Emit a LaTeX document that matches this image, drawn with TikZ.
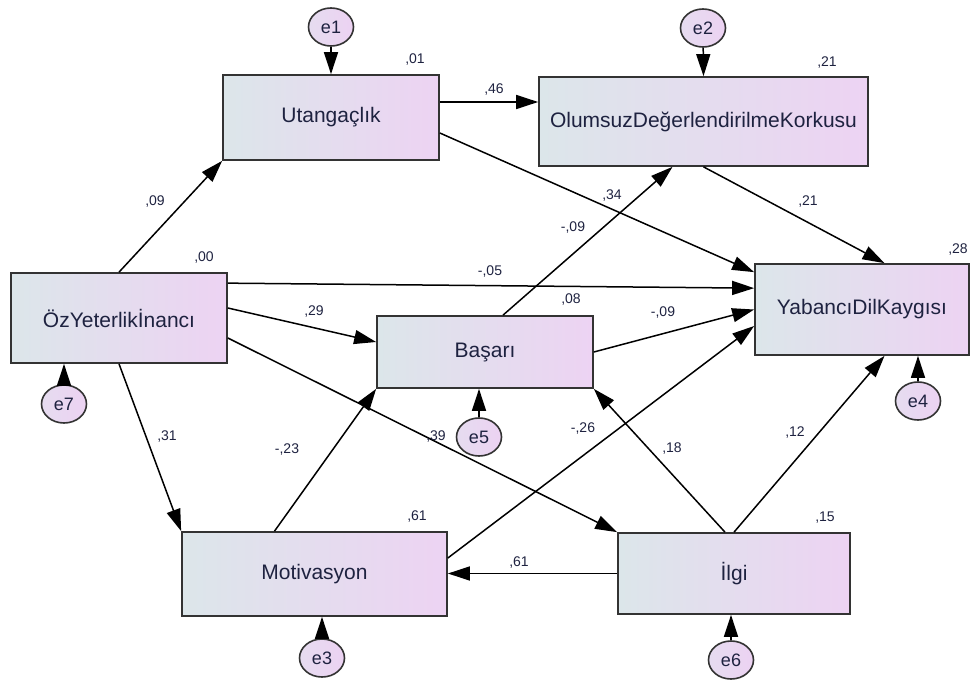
\documentclass[tikz,border=0pt]{standalone}
\usepackage{fontspec}
\setmainfont{Liberation Sans}
\usetikzlibrary{arrows.meta,shapes.geometric}
\definecolor{boxl}{HTML}{DCE6EA}
\definecolor{boxr}{HTML}{EDD3F3}
\definecolor{errl}{HTML}{E6DCF0}
\definecolor{errr}{HTML}{ECD2F2}
\definecolor{txt}{HTML}{1E2240}

\begin{document}
\begin{tikzpicture}[x=1pt,y=-1pt,
  var/.style={draw=black!80,line width=1.7pt,left color=boxl,right color=boxr,inner sep=0pt,text=txt,font=\fontsize{21}{25}\selectfont},
  err/.style={ellipse,draw=black!80,line width=1.6pt,left color=errl,right color=errr,minimum width=45pt,minimum height=38pt,inner sep=0pt,text=txt,font=\fontsize{18}{20}\selectfont},
  reg/.style={line width=1.5pt,-{Triangle[length=22pt,width=14pt]}},
  coef/.style={text=txt,inner sep=1pt,font=\fontsize{14}{16}\selectfont}]
\useasboundingbox (0,0) rectangle (972,682);

\node[var,minimum width=216pt,minimum height=85pt] (uta) at (331,117.5) {Utangaçlık};
\node[var,minimum width=329pt,minimum height=89pt] (okk) at (703.5,121.5) {OlumsuzDeğerlendirilmeKorkusu};
\node[var,minimum width=216pt,minimum height=90pt] (ozy) at (119,318) {ÖzYeterlikİnancı};
\node[var,minimum width=216pt,minimum height=72pt] (bas) at (485,352) {Başarı};
\node[var,minimum width=214pt,minimum height=91pt] (ydk) at (862,309.5) {YabancıDilKaygısı};
\node[var,minimum width=265pt,minimum height=84pt] (mot) at (314.5,574) {Motivasyon};
\node[var,minimum width=232pt,minimum height=81pt] (ilg) at (734,573.5) {İlgi};

\node[err] (e1) at (331,27) {e1};
\node[err] (e2) at (703,28) {e2};
\node[err] (e7) at (64,404) {e7};
\node[err] (e5) at (479,437) {e5};
\node[err] (e4) at (918,401) {e4};
\node[err] (e3) at (322,658) {e3};
\node[err] (e6) at (731,660) {e6};

\draw[reg] (e1) -- (uta.north);
\draw[reg] (e2) -- (okk.north);
\foreach \e/\v in {e7/ozy,e5/bas,e4/ydk,e3/mot,e6/ilg}
  \draw[reg] (\e) -- (\e |- \v.south);

\draw[reg] (ozy.north) -- (uta.south west);
\draw[reg] ([yshift=15.5pt]uta.east) -- ([yshift=19.5pt]okk.west);
\draw[reg] ([yshift=-15.5pt]uta.east) -- ([yshift=-9pt]ydk.north west);
\draw[reg] (okk.south) -- ([xshift=22.5pt]ydk.north);
\draw[reg] ([yshift=-11pt]ozy.north east) -- ([yshift=-25pt]ydk.north west);
\draw[reg] ([yshift=10pt]ozy.east) -- ([yshift=10pt]bas.west);
\draw[reg] ([yshift=-20pt]ozy.east) -- (ilg.north west);
\draw[reg] (ozy.south) -- (mot.north west);
\draw[reg] ([xshift=18pt]bas.north) -- ([xshift=-31pt]okk.south);
\draw[reg] (bas.east) -- (ydk.west);
\draw[reg] ([xshift=-40pt]mot.north) -- (bas.south west);
\draw[reg] ([yshift=16pt]mot.east) -- ([yshift=-16.5pt]ydk.west);
\draw[reg] (ilg.west) -- (ilg.west -| mot.east);
\draw[reg] ([xshift=-9pt]ilg.north) -- (bas.south east);
\draw[reg] (ilg.north) -- ([xshift=22.5pt]ydk.south);

\node[coef] (r1) at (415,60) {,01};
\node[coef] (r2) at (827,63) {,21};
\node[coef] (r7) at (204,258) {,00};
\node[coef] (r5) at (571,300) {,08};
\node[coef] (r4) at (958,250) {,28};
\node[coef] (r3) at (417,517) {,61};
\node[coef] (r6) at (825,518) {,15};

\node[coef] (c1) at (155,202) {,09};
\node[coef] (c2) at (494,90) {,46};
\node[coef] (c3) at (612,196) {,34};
\node[coef] (c4) at (808,202) {,21};
\node[coef] (c5) at (490,272) {-,05};
\node[coef] (c6) at (314,312) {,29};
\node[coef] (c7) at (436,437) {,39};
\node[coef] (c8) at (167,437) {,31};
\node[coef] (c9) at (573,228) {-,09};
\node[coef] (c10) at (663,313) {-,09};
\node[coef] (c11) at (287,450) {-,23};
\node[coef] (c12) at (583,429) {-,26};
\node[coef] (c13) at (519,563) {,61};
\node[coef] (c14) at (672,449) {,18};
\node[coef] (c15) at (795,433) {,12};
\end{tikzpicture}
\end{document}
